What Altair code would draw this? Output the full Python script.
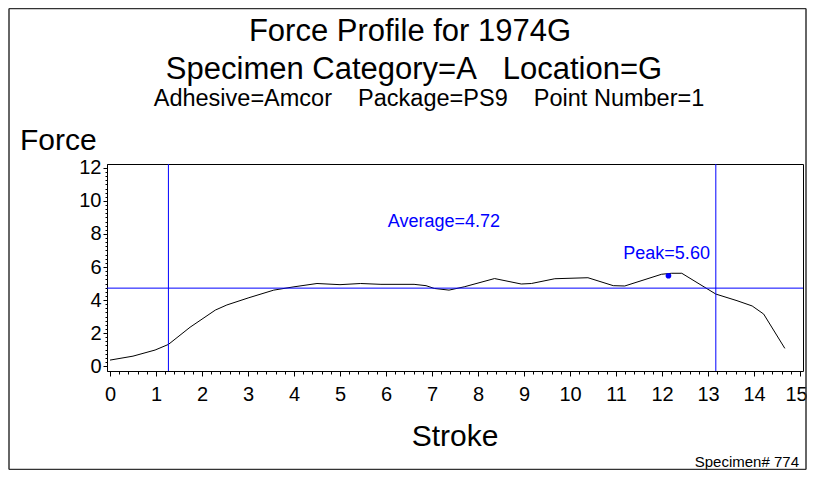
import altair as alt
import pandas as pd

# ---- data ----
stroke = [0.0, 0.5, 0.98, 1.27, 1.74, 2.29, 2.54, 3.02, 3.56, 4.0, 4.5, 5.0, 5.45, 5.89,
          6.61, 6.87, 7.05, 7.37, 7.7, 8.36, 8.94, 9.16, 9.67, 10.39, 10.94, 11.19,
          11.99, 12.21, 12.43, 13.17, 13.63, 13.96, 14.21, 14.67]
force = [0.36, 0.6, 0.97, 1.31, 2.35, 3.39, 3.7, 4.14, 4.6, 4.8, 5.0, 4.93, 5.0, 4.95,
         4.95, 4.87, 4.7, 4.6, 4.8, 5.3, 4.97, 5.0, 5.29, 5.35, 4.87, 4.85,
         5.56, 5.62, 5.62, 4.36, 3.96, 3.64, 3.15, 1.07]
avg_force = [4.72]
limit_strokes = [1.27, 13.17]
peak_stroke = [12.14]
peak_force = [5.47]
avg_label_pos = [7.26, 8.73]
peak_label_pos = [12.1, 6.79]
x_ticks = list(range(16))
y_ticks = [0, 2, 4, 6, 8, 10, 12]
x_minor = [i / 5 for i in range(76)]
y_minor = [i / 4 for i in range(49)]

FONT = "Liberation Sans, Arial, Helvetica, sans-serif"
BLUE = "#0000ff"
NB = "\u00a0"

xs = alt.Scale(domain=[-0.065, 15.065], nice=False, zero=False)
ys = alt.Scale(domain=[-0.30, 12.24], nice=False, zero=False)

ax_x_major = alt.Axis(orient="bottom", values=x_ticks, title=None, grid=False, domain=False,
                      tickSize=5, tickColor="black", labelFontSize=20, labelFont=FONT,
                      labelColor="black", labelPadding=8, labelFlush=False, format="d",
                      labelOffset={"condition": {"test": "datum.value == 15", "value": -4},
                                   "value": 0})
ax_y_major = alt.Axis(orient="left", values=y_ticks, title=None, grid=False, domain=True,
                      domainColor="black", tickSize=4, tickColor="black", labelFontSize=20,
                      labelFont=FONT, labelColor="black", labelPadding=2, format="d")
ax_x_minor = alt.Axis(orient="bottom", values=x_minor, title=None, grid=False, domain=False,
                      tickSize=3, tickColor="black", labels=False)
ax_y_minor = alt.Axis(orient="left", values=y_minor, title=None, grid=False, domain=False,
                      tickSize=2, tickColor="black", labels=False)

df = pd.DataFrame({"Stroke": stroke, "Force": force})

line = alt.Chart(df).mark_line(color="black", strokeWidth=1).encode(
    x=alt.X("Stroke:Q", scale=xs, axis=ax_x_major),
    y=alt.Y("Force:Q", scale=ys, axis=ax_y_major),
)

vrules = alt.Chart(pd.DataFrame({"Stroke": limit_strokes})).mark_rule(
    color=BLUE, strokeWidth=1).encode(
    x=alt.X("Stroke:Q", scale=xs, axis=ax_x_minor),
)
hrule = alt.Chart(pd.DataFrame({"Force": avg_force})).mark_rule(
    color=BLUE, strokeWidth=1).encode(
    y=alt.Y("Force:Q", scale=ys, axis=ax_y_minor),
)

peak_pt = alt.Chart(pd.DataFrame({"Stroke": peak_stroke, "Force": peak_force})).mark_point(
    filled=True, color=BLUE, size=32, opacity=1, shape="circle").encode(
    x=alt.X("Stroke:Q", scale=xs, axis=None), y=alt.Y("Force:Q", scale=ys, axis=None))

labels_df = pd.DataFrame({
    "Stroke": [avg_label_pos[0], peak_label_pos[0]],
    "Force": [avg_label_pos[1], peak_label_pos[1]],
    "t": ["Average=%.2f" % avg_force[0], "Peak=5.60"],
})
ann = alt.Chart(labels_df).mark_text(color=BLUE, fontSize=18, font=FONT, baseline="middle").encode(
    x=alt.X("Stroke:Q", scale=xs, axis=None), y=alt.Y("Force:Q", scale=ys, axis=None), text="t:N")


def txt(s, x, y, size, align="center", color="black"):
    return alt.Chart(alt.Data(values=[{}])).mark_text(
        text=s, fontSize=size, font=FONT, align=align, baseline="alphabetic", color=color
    ).encode(x=alt.value(x), y=alt.value(y))


titles = [
    txt("Force Profile for 1974G", 303, -123, 31),
    txt("Specimen Category=A" + NB * 3 + "Location=G", 307, -85, 31),
    txt("Adhesive=Amcor" + NB * 4 + "Package=PS9" + NB * 4 + "Point Number=1", 322, -58, 23.5),
    txt("Force", -87, -14, 30, align="left"),
    txt("Stroke", 348, 282, 30),
    txt("Specimen# 774", 692, 303, 15, align="right"),
]


def rule(x, x2, y, y2):
    return alt.Chart(alt.Data(values=[{}])).mark_rule(color="#333333", strokeWidth=1.5).encode(
        x=alt.value(x), x2=alt.value(x2), y=alt.value(y), y2=alt.value(y2))


borders = [
    rule(-98, -98, -155.5, 305.5),
    rule(699, 699, -155.5, 305.5),
    rule(-98, 699, -155.5, -155.5),
    rule(-98, 699, 305.5, 305.5),
]

chart = alt.layer(line, vrules, hrule, peak_pt, ann, *titles, *borders).resolve_axis(
    x="independent", y="independent"
).properties(
    width=696, height=207,
    autosize=alt.AutoSizeParams(type="none"),
    padding={"left": 99, "top": 156, "right": 4, "bottom": 99},
    background="white",
).configure_view(stroke="black", strokeWidth=1)

chart.save("out.html", embed_options={"renderer": "svg", "actions": False})
